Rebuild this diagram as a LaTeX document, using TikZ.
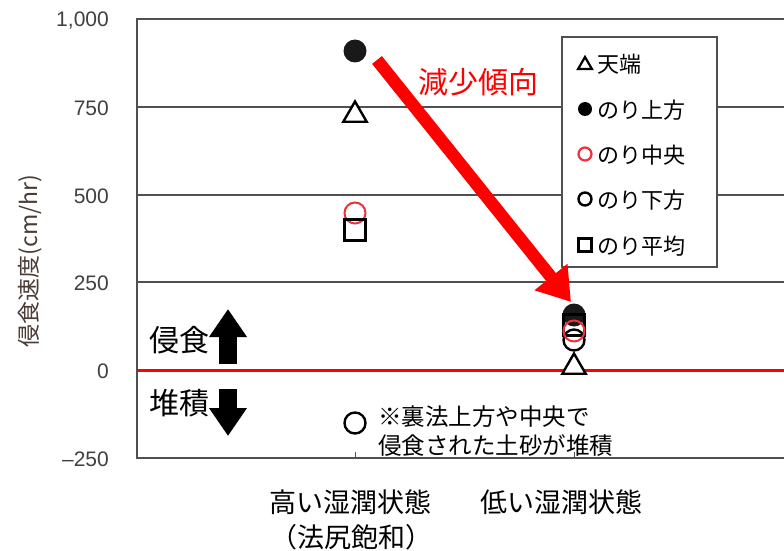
\documentclass[tikz,border=0pt]{standalone}
\usepackage{fontspec}
\setmainfont{Liberation Sans}
\newfontfamily\jp{Noto Sans CJK JP}
\usetikzlibrary{arrows.meta,shapes.geometric}
\definecolor{axisgray}{HTML}{505050}
\definecolor{ticktext}{HTML}{404040}
\definecolor{ylab}{HTML}{4A3C36}
\definecolor{mred}{HTML}{F0303A}
\definecolor{arrred}{HTML}{FF0000}
\tikzset{
  grid/.style={draw=axisgray, line width=2pt},
  ticklab/.style={anchor=east, text=ticktext, font=\fontsize{21}{21}\selectfont, inner sep=0pt},
  mtri/.style={regular polygon, regular polygon sides=3, draw=black, fill=white, line width=2.4pt, minimum size=27pt, inner sep=0pt},
  mfill/.style={circle, fill=black!90, minimum size=23pt, inner sep=0pt},
  mred/.style={circle, draw=mred, line width=2pt, minimum size=21pt, inner sep=0pt},
  mopen/.style={circle, draw=black, fill=white, line width=2.4pt, minimum size=21pt, inner sep=0pt},
  msq/.style={rectangle, draw=black, line width=2.4pt, minimum size=21pt, inner sep=0pt},
  ltri/.style={regular polygon, regular polygon sides=3, draw=black, line width=2.2pt, minimum size=16pt, inner sep=0pt},
  lfill/.style={circle, fill=black, minimum size=14pt, inner sep=0pt},
  lred/.style={circle, draw=mred, line width=2.2pt, minimum size=13pt, inner sep=0pt},
  lopen/.style={circle, draw=black, line width=2.4pt, minimum size=13pt, inner sep=0pt},
  lsq/.style={rectangle, draw=black, line width=2.4pt, minimum size=13pt, inner sep=0pt},
  legtext/.style={anchor=west, inner sep=0pt, font=\jp\fontsize{22}{22}\selectfont},
  jptext/.style={inner sep=0pt, font=\jp\fontsize{#1}{#1}\selectfont},
}
\begin{document}
\begin{tikzpicture}[x=1pt,y=-1pt]
\useasboundingbox[fill=white] (0,0) rectangle (784,551);
% grid lines
\foreach \yy in {19,106.8,194.6,282.4} { \draw[grid] (137,\yy) -- (784,\yy); }
\draw[grid] (137,458) -- (784,458);
% left axis
\draw[draw=axisgray, line width=2.4pt] (137,18) -- (137,459);
% bottom ticks
\draw[draw=axisgray, line width=1pt] (355,458) -- (355,452);
\draw[draw=axisgray, line width=1pt] (574,458) -- (574,452);
% zero line
\draw[draw=arrred, line width=3pt] (137,370.2) -- (784,370.2);
% tick labels
\node[ticklab] (t1000) at (109,21) {1,000};
\node[ticklab] (t750) at (109,108) {750};
\node[ticklab] (t500) at (109,196) {500};
\node[ticklab] (t250) at (109,283) {250};
\node[ticklab] (t0) at (109,371) {0};
\node[ticklab] (tm250) at (109,459) {–250};
% y label
\node[rotate=90, text=ylab, inner sep=0pt, font=\jp\fontsize{23}{23}\selectfont] (ylabel) at (30,261) {侵食速度(cm/hr)};
% category 1 markers
\node[mfill] (c1up) at (355,51) {};
\node[mtri] (c1top) at (355,115) {};
\node[mred] (c1mid) at (355,213) {};
\node[msq] (c1avg) at (355,230) {};
\node[mopen] (c1low) at (355,423) {};
% category 2 markers
\node[mtri] (c2top) at (574,367) {};
\node[mopen] (c2low) at (574,340) {};
\node[mfill] (c2up) at (574,315) {};
\node[msq] (c2avg) at (574,325) {};
\node[mred] (c2mid) at (574,331) {};
% legend
\node[draw=axisgray, fill=white, line width=1.6pt, minimum width=155pt, minimum height=230pt, inner sep=0pt] (legend) at (639.5,152) {};
\node[ltri] (lg1) at (585,65) {};
\node[legtext] (lt1) at (597,64) {天端};
\node[lfill] (lg2) at (585,109) {};
\node[legtext] (lt2) at (597,110) {のり上方};
\node[lred] (lg3) at (585,154) {};
\node[legtext] (lt3) at (597,155) {のり中央};
\node[lopen] (lg4) at (585,199) {};
\node[legtext] (lt4) at (597,200) {のり下方};
\node[lsq] (lg5) at (585,245) {};
\node[legtext] (lt5) at (597,246) {のり平均};
% red trend arrow
\coordinate (arrS) at (377,60);
\coordinate (arrE) at (571,302);
\draw[draw=arrred, line width=12.5pt, -{Triangle[length=32pt,width=40pt]}] (arrS) -- (arrE);
\node[jptext=30, text=arrred] (trend) at (478,82) {減少傾向};
% erosion / deposition
\node[jptext=30] (erode) at (179,340) {侵食};
\node[jptext=30] (depo) at (179,403) {堆積};
\coordinate (upS) at (228,364);
\coordinate (upE) at (228,309);
\coordinate (dnS) at (228,389);
\coordinate (dnE) at (228,436);
\draw[line width=18pt, -{Triangle[length=28pt,width=36pt]}] (upS) -- (upE);
\draw[line width=18pt, -{Triangle[length=28pt,width=36pt]}] (dnS) -- (dnE);
% note
\node[jptext=23.5, anchor=west] (note1) at (378,417) {※裏法上方や中央で};
\node[jptext=23.5, anchor=west] (note2) at (378,446) {侵食された土砂が堆積};
% x labels
\node[jptext=27] (x1a) at (350,502) {高い湿潤状態};
\node[jptext=27] (x1b) at (351,537) {（法尻飽和）};
\node[jptext=27] (x2a) at (561,502) {低い湿潤状態};
\end{tikzpicture}
\end{document}
